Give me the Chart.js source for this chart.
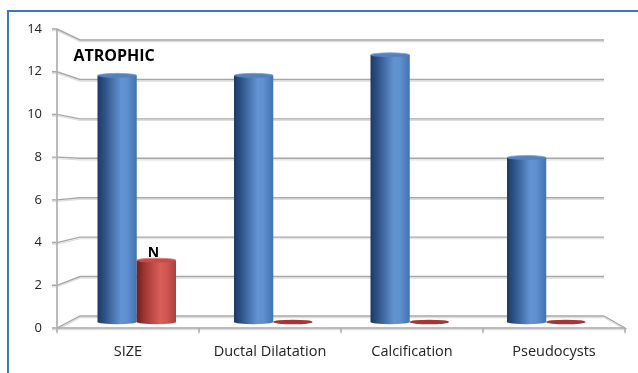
<!DOCTYPE html>
<html>
<head>
<meta charset="utf-8">
<script src="https://cdn.jsdelivr.net/npm/chart.js@4"></script>
<style>
  html, body { margin: 0; padding: 0; background: #fff; }
  #wrap { width: 638px; height: 373px; position: relative; }
  canvas { display: block; }
</style>
</head>
<body>
<div id="wrap"><canvas id="chart" width="638" height="373" style="width:638px;height:373px"></canvas></div>
<script>
// Chart data
const categories = ['SIZE', 'Ductal Dilatation', 'Calcification', 'Pseudocysts'];
const atrophicValues = [12, 12, 13, 8];
const normalValues = [3, 0, 0, 0];
const seriesNames = ['ATROPHIC', 'N'];
const yTickValues = [0, 2, 4, 6, 8, 10, 12, 14];

// Look of the 3-D cylinders
const cylinderColors = [
  { stops: [[0, '#1e3961'], [0.18, '#2d5287'], [0.6, '#6294d3'], [0.75, '#5f90cf'], [1, '#4272b0']],
    top: '#5582bd', rim: '#7aa3d6', flat: '#2f5a92' },
  { stops: [[0, '#6f1f1d'], [0.18, '#9a3431'], [0.6, '#d95f59'], [0.75, '#d25752'], [1, '#ad3f3b']],
    top: '#c44d48', rim: '#de7a76', flat: '#a43734' }
];
const labelStyle = [
  { size: 16, lift: 15 },
  { size: 14, lift: 3 }
];
const FONT = '"Open Sans", "Liberation Sans", Arial, sans-serif';
// depth of the box: how far the back wall sits inside the front frame
const DEPTH = { left: 23, right: 21, top: 11, bottom: 12 };

function project(ca, x, y, t) {
  const u = (x - ca.left) / (ca.right - ca.left);
  const v = (y - ca.top) / (ca.bottom - ca.top);
  const L = ca.left + DEPTH.left * t, R = ca.right - DEPTH.right * t;
  const T = ca.top + DEPTH.top * t, B = ca.bottom - DEPTH.bottom * t;
  return [L + u * (R - L), T + v * (B - T)];
}

function line(ctx, pts) {
  ctx.beginPath();
  ctx.moveTo(pts[0][0], pts[0][1]);
  for (let i = 1; i < pts.length; i++) ctx.lineTo(pts[i][0], pts[i][1]);
  ctx.stroke();
}

function strokeGrid(ctx, pts) {
  ctx.save();
  ctx.strokeStyle = '#dedede';
  ctx.lineWidth = 1.2;
  line(ctx, pts.map(p => [p[0], p[1] + 1.6]));
  ctx.strokeStyle = '#a7a7a7';
  ctx.lineWidth = 1.4;
  line(ctx, pts);
  ctx.restore();
}

function drawCylinder(ctx, xl, xr, yTop, yBase, style) {
  const rx = (xr - xl) / 2, xc = (xl + xr) / 2, ry = 2.2;
  const g = ctx.createLinearGradient(xl, 0, xr, 0);
  style.stops.forEach(s => g.addColorStop(s[0], s[1]));
  if (yBase - yTop < 0.5) {
    ctx.beginPath();
    ctx.ellipse(xc, yBase, rx, 2.3, 0, 0, Math.PI * 2);
    ctx.fillStyle = style.flat;
    ctx.fill();
    return;
  }
  ctx.beginPath();
  ctx.moveTo(xl, yTop);
  ctx.lineTo(xl, yBase);
  ctx.ellipse(xc, yBase, rx, ry, 0, Math.PI, 0, true);
  ctx.lineTo(xr, yTop);
  ctx.closePath();
  ctx.fillStyle = g;
  ctx.fill();
  ctx.beginPath();
  ctx.ellipse(xc, yTop, rx, ry, 0, 0, Math.PI * 2);
  ctx.fillStyle = style.top;
  ctx.fill();
  ctx.beginPath();
  ctx.ellipse(xc, yTop, rx, ry, 0, Math.PI, 0);
  ctx.strokeStyle = style.rim;
  ctx.lineWidth = 0.8;
  ctx.stroke();
}

const box3d = {
  id: 'box3d',
  beforeDraw(chart) {
    const ctx = chart.ctx;
    ctx.save();
    ctx.fillStyle = '#ffffff';
    ctx.fillRect(0, 0, chart.width, chart.height);
    ctx.strokeStyle = '#3a78c0';
    ctx.lineWidth = 2;
    ctx.beginPath();
    ctx.moveTo(8, chart.height);
    ctx.lineTo(8, 11);
    ctx.lineTo(chart.width, 11);
    ctx.stroke();
    ctx.restore();
  },
  beforeDatasetsDraw(chart) {
    const ctx = chart.ctx, ca = chart.chartArea;
    const ys = chart.scales.y, xs = chart.scales.x;
    // back wall gridlines joined to the front value axis
    ys.ticks.forEach(tk => {
      const yF = ys.getPixelForValue(tk.value);
      const b0 = project(ca, ca.left, yF, 1), b1 = project(ca, ca.right, yF, 1);
      strokeGrid(ctx, [[ca.left - 5, yF], [ca.left, yF], b0, b1]);
    });
    // floor: front edge and right side
    const yF0 = ys.getPixelForValue(0);
    const bR = project(ca, ca.right, yF0, 1);
    strokeGrid(ctx, [[ca.left, yF0], [ca.right, yF0], bR]);
    // front value axis
    strokeGrid(ctx, [[ca.left, ys.getPixelForValue(ys.max)], [ca.left, yF0]]);
    // category tick marks on the front edge
    const n = xs.ticks.length;
    for (let i = 0; i <= n; i++) {
      const x = ca.left + i * (ca.right - ca.left) / n;
      strokeGrid(ctx, [[x, yF0], [x, yF0 + 4.5]]);
    }
    // cylinders, standing halfway into the box
    chart.data.datasets.forEach((ds, di) => {
      const meta = chart.getDatasetMeta(di);
      meta.data.forEach(bar => {
        const p = bar.getProps(['x', 'y', 'base', 'width']);
        const l = project(ca, p.x - p.width / 2, p.y, 0.5);
        const r = project(ca, p.x + p.width / 2, p.base, 0.5);
        drawCylinder(ctx, l[0], r[0], l[1], r[1], cylinderColors[di]);
      });
    });
    // series names above the first category
    chart.data.datasets.forEach((ds, di) => {
      const bar = chart.getDatasetMeta(di).data[0];
      const p = bar.getProps(['x', 'y']);
      const top = project(ca, p.x, p.y, 0.5);
      ctx.save();
      ctx.font = 'bold ' + labelStyle[di].size + 'px ' + FONT;
      ctx.fillStyle = '#000';
      ctx.textAlign = 'center';
      ctx.textBaseline = 'alphabetic';
      ctx.fillText(ds.label, top[0] - 3, top[1] - labelStyle[di].lift);
      ctx.restore();
    });
    return false;
  }
};

new Chart(document.getElementById('chart'), {
  type: 'bar',
  data: {
    labels: categories,
    datasets: [
      { label: seriesNames[0], data: atrophicValues },
      { label: seriesNames[1], data: normalValues }
    ]
  },
  options: {
    responsive: false,
    animation: false,
    devicePixelRatio: 1,
    layout: { padding: { top: 29, right: 13, left: 0, bottom: 0 } },
    datasets: { bar: { categoryPercentage: 0.575, barPercentage: 1 } },
    plugins: { legend: { display: false }, tooltip: { enabled: false } },
    scales: {
      x: {
        grid: { display: false, drawTicks: false },
        border: { display: false },
        ticks: { font: { family: FONT, size: 14.5 }, color: '#222', padding: 15, maxRotation: 0 },
        afterFit: s => { s.height = 45; }
      },
      y: {
        min: 0, max: 14,
        afterBuildTicks: s => { s.ticks = yTickValues.map(v => ({ value: v })); },
        grid: { display: false, drawTicks: false },
        border: { display: false },
        ticks: { font: { family: FONT, size: 13 }, color: '#222', padding: 15 },
        afterFit: s => { s.width = 57; }
      }
    }
  },
  plugins: [box3d]
});
</script>
</body>
</html>
